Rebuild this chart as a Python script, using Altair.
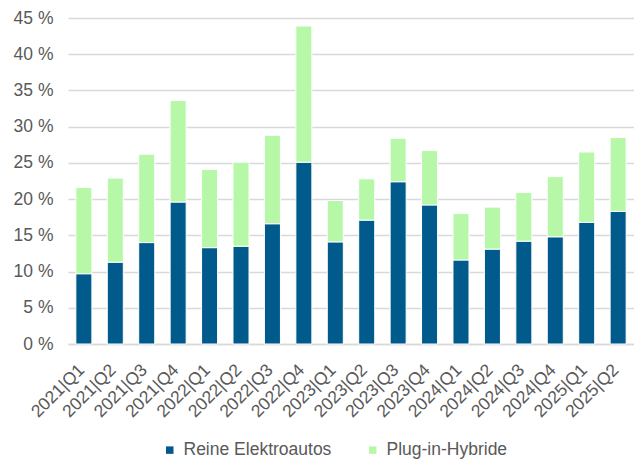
import altair as alt
import pandas as pd

quarters = ["2021|Q1", "2021|Q2", "2021|Q3", "2021|Q4",
            "2022|Q1", "2022|Q2", "2022|Q3", "2022|Q4",
            "2023|Q1", "2023|Q2", "2023|Q3", "2023|Q4",
            "2024|Q1", "2024|Q2", "2024|Q3", "2024|Q4",
            "2025|Q1", "2025|Q2"]
bev = [9.7, 11.3, 14.0, 19.6, 13.3, 13.5, 16.6, 25.1,
       14.1, 17.1, 22.4, 19.2, 11.6, 13.1, 14.2, 14.8, 16.8, 18.3]
total = [21.6, 22.9, 26.2, 33.6, 24.1, 25.1, 28.8, 43.9,
         19.8, 22.8, 28.4, 26.7, 18.0, 18.9, 20.9, 23.1, 26.5, 28.5]
phev = [round(t - b, 1) for t, b in zip(total, bev)]
series = ["Reine Elektroautos", "Plug-in-Hybride"]
colors = ["#005A8C", "#B6F8A8"]

rows = []
for q, b, p in zip(quarters, bev, phev):
    rows.append({"q": q, "s": series[0], "v": b, "o": 0})
    rows.append({"q": q, "s": series[1], "v": p, "o": 1})
df = pd.DataFrame(rows)

FONT = "Liberation Sans"
GRAY = "#595959"
FS = 17.5

chart = alt.Chart(df).mark_bar(stroke="white", strokeWidth=1).encode(
    x=alt.X("q:N", sort=quarters, title=None,
            scale=alt.Scale(paddingInner=0.49, paddingOuter=0.25),
            axis=alt.Axis(labelAngle=-45, labelAlign="right", labelBaseline="middle",
                          labelFont=FONT, labelFontSize=FS, labelColor=GRAY,
                          ticks=False, domain=True, domainColor="#D9D9D9", domainWidth=1.5,
                          labelPadding=23, labelOffset=-2)),
    y=alt.Y("v:Q", stack="zero", title=None,
            scale=alt.Scale(domain=[0, 45], nice=False),
            axis=alt.Axis(values=list(range(0, 50, 5)), labelExpr="datum.value + ' %'",
                          labelFont=FONT, labelFontSize=FS, labelColor=GRAY,
                          ticks=False, domain=False, gridColor="#D9D9D9", gridWidth=1.5,
                          labelPadding=15)),
    color=alt.Color("s:N", sort=series,
                    scale=alt.Scale(domain=series, range=colors),
                    legend=alt.Legend(title=None, orient="none", direction="horizontal",
                                      legendX=93, legendY=423,
                                      symbolType="square", symbolSize=56, symbolStrokeWidth=0,
                                      labelFont=FONT, labelFontSize=FS, labelColor=GRAY,
                                      columnPadding=32, labelOffset=5)),
    order=alt.Order("o:Q"),
).properties(
    width=566, height=326,
    autosize=alt.AutoSizeParams(type="none"),
    padding={"left": 68, "top": 18, "right": 0, "bottom": 117},
).configure_view(stroke=None)

chart.save("out.html", embed_options={"renderer": "svg", "actions": False})
